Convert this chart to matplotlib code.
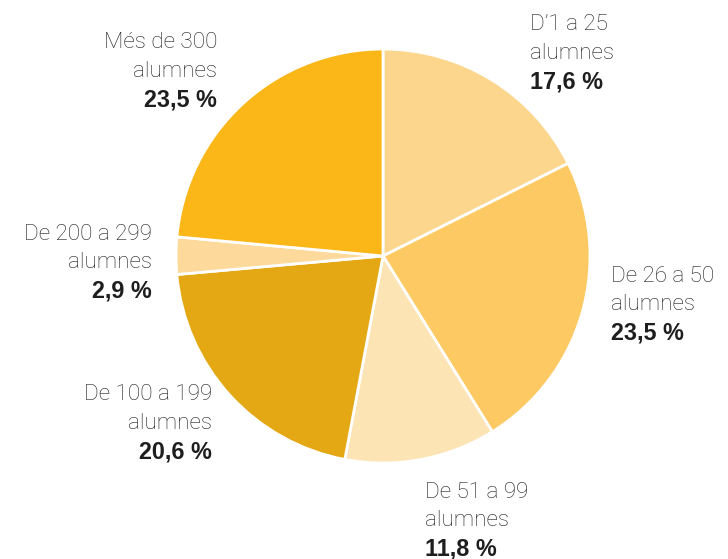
import matplotlib
matplotlib.use("Agg")
import matplotlib.pyplot as plt

categories = ["D\u20191 a 25\nalumnes", "De 26 a 50\nalumnes", "De 51 a 99\nalumnes",
              "De 100 a 199\nalumnes", "De 200 a 299\nalumnes", "Més de 300\nalumnes"]
values = [17.6, 23.5, 11.8, 20.6, 2.9, 23.5]
pct_labels = ["17,6 %", "23,5 %", "11,8 %", "20,6 %", "2,9 %", "23,5 %"]
colors = ["#FDD68E", "#FDC962", "#FDE4B4", "#E4A814", "#FDDA9C", "#FBB617"]

W, H = 728, 559
fig = plt.figure(figsize=(W / 100, H / 100), dpi=100)
ax = fig.add_axes([0, 0, 1, 1])

cx, cy, r = 383, H - 256, 207
ax.pie(values, colors=colors, startangle=90, counterclock=False,
       center=(cx, cy), radius=r, frame=True,
       wedgeprops=dict(edgecolor="white", linewidth=2))
ax.set_xlim(0, W)
ax.set_ylim(0, H)
ax.set_aspect("equal")
ax.axis("off")

# label layout: (x, y of first line, alignment)
layout = [(530, 25, "left"), (611, 276, "left"), (425, 492, "left"),
          (212, 395, "right"), (152, 234, "right"), (217, 43, "right")]
lh = 28.5
for cat, pct, (x, y, ha) in zip(categories, pct_labels, layout):
    l1, l2 = cat.split("\n")
    for i, line in enumerate((l1, l2)):
        ax.text(x, H - y - i * lh, line, ha=ha, va="center", fontsize=16.2,
                color="#1e1e1e", family=["Roboto", "DejaVu Sans"], fontweight="light")
    ax.text(x, H - y - 2 * lh, pct, ha=ha, va="center", fontsize=16.8, color="#1e1e1e",
            family=["Liberation Sans", "DejaVu Sans"], fontweight="bold")

fig.savefig("out.png", dpi=100)
